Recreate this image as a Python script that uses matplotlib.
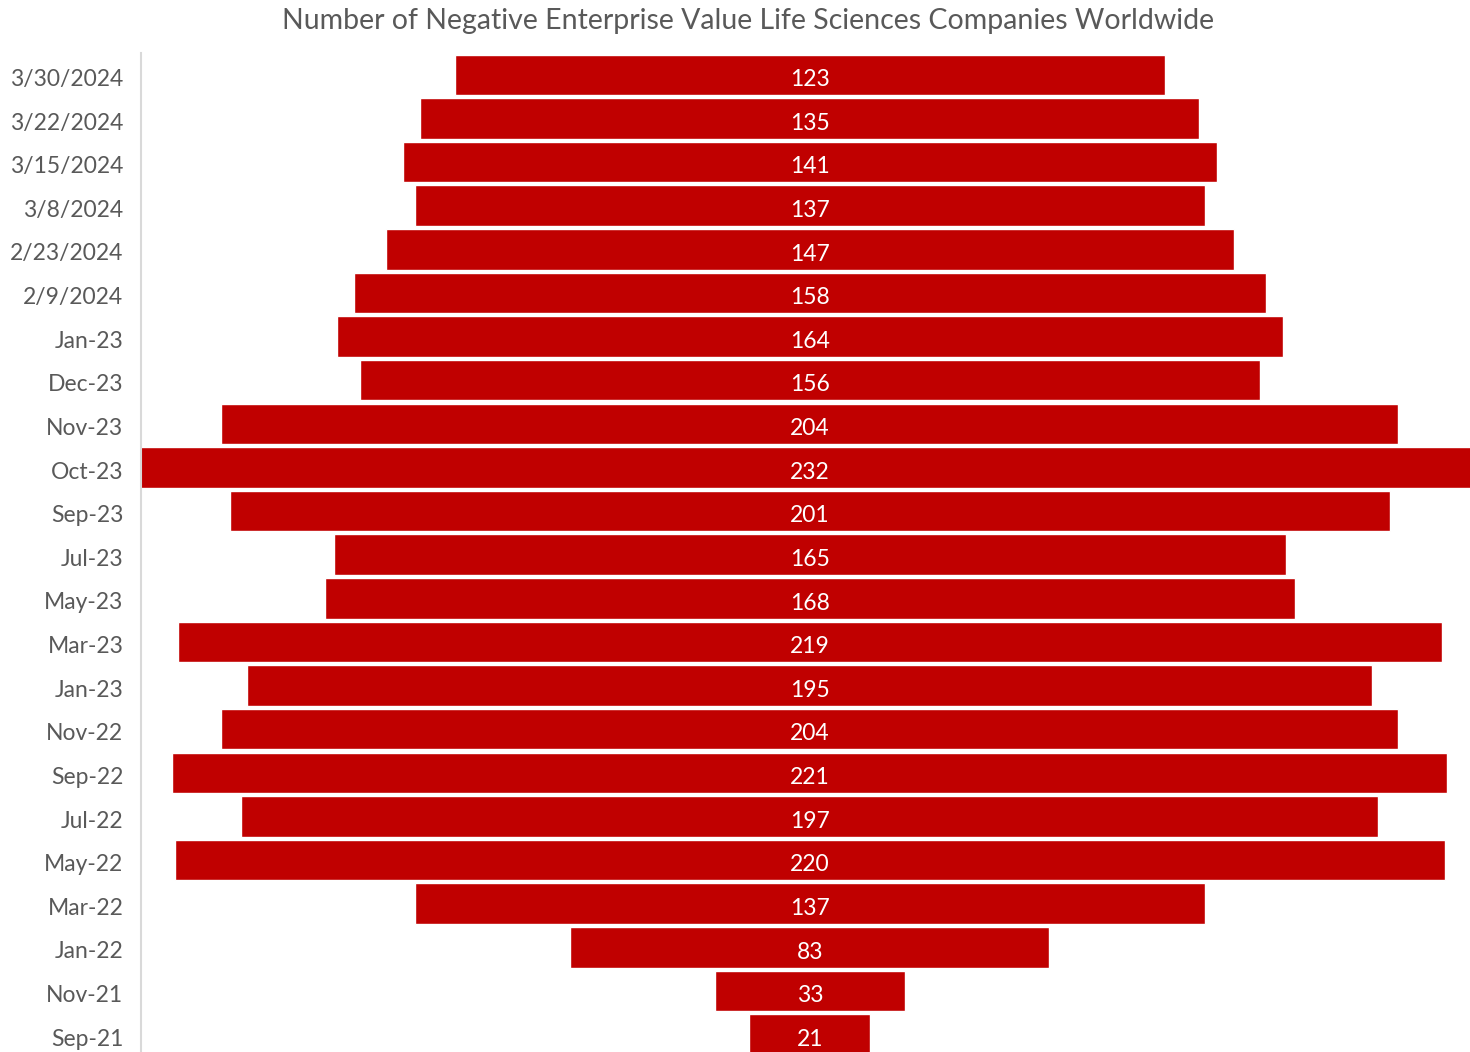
import matplotlib
matplotlib.use("Agg")
import matplotlib.pyplot as plt
import numpy as np

# data, top to bottom as shown
labels = ['3/30/2024', '3/22/2024', '3/15/2024', '3/8/2024', '2/23/2024', '2/9/2024',
          'Jan-23', 'Dec-23', 'Nov-23', 'Oct-23', 'Sep-23', 'Jul-23', 'May-23', 'Mar-23',
          'Jan-23', 'Nov-22', 'Sep-22', 'Jul-22', 'May-22', 'Mar-22', 'Jan-22', 'Nov-21', 'Sep-21']
counts = [123, 135, 141, 137, 147, 158, 164, 156, 204, 232, 201, 165, 168, 219,
          195, 204, 221, 197, 220, 137, 83, 33, 21]

plt.rcParams['font.family'] = ['Lato', 'DejaVu Sans']

fig = plt.figure(figsize=(14.7, 10.52), dpi=100)
ax = fig.add_axes([141 / 1470, 0, 1 - 141 / 1470, 1 - 53 / 1052])

y = np.arange(len(counts))
vals = np.array(counts)
ax.barh(y, vals, left=-vals / 2, height=0.93, color='#c00000',
        edgecolor='white', linewidth=1)

# value labels in the middle of each bar
for yi, v in zip(y, counts):
    ax.text(0, yi + 0.11, str(v), color='white', ha='center', va='center', fontsize=16.5)

ax.set_yticks(y + 0.06)
ax.set_yticklabels(labels)
ax.tick_params(axis='y', length=0, pad=12.7, labelsize=16.5, labelcolor='#595959')
ax.set_xticks([])
ax.set_xlim(-115.9, 114.4)
ax.set_ylim(22.4, -0.5)

for s in ['top', 'right', 'bottom']:
    ax.spines[s].set_visible(False)
ax.spines['left'].set_color('#d9d9d9')
ax.spines['left'].set_linewidth(1.5)

fig.text(748 / 1470, 1 - 21 / 1052, 'Number of Negative Enterprise Value Life Sciences Companies Worldwide',
         ha='center', va='center', fontsize=20.5, color='#595959')

fig.savefig('out.png', dpi=100)
